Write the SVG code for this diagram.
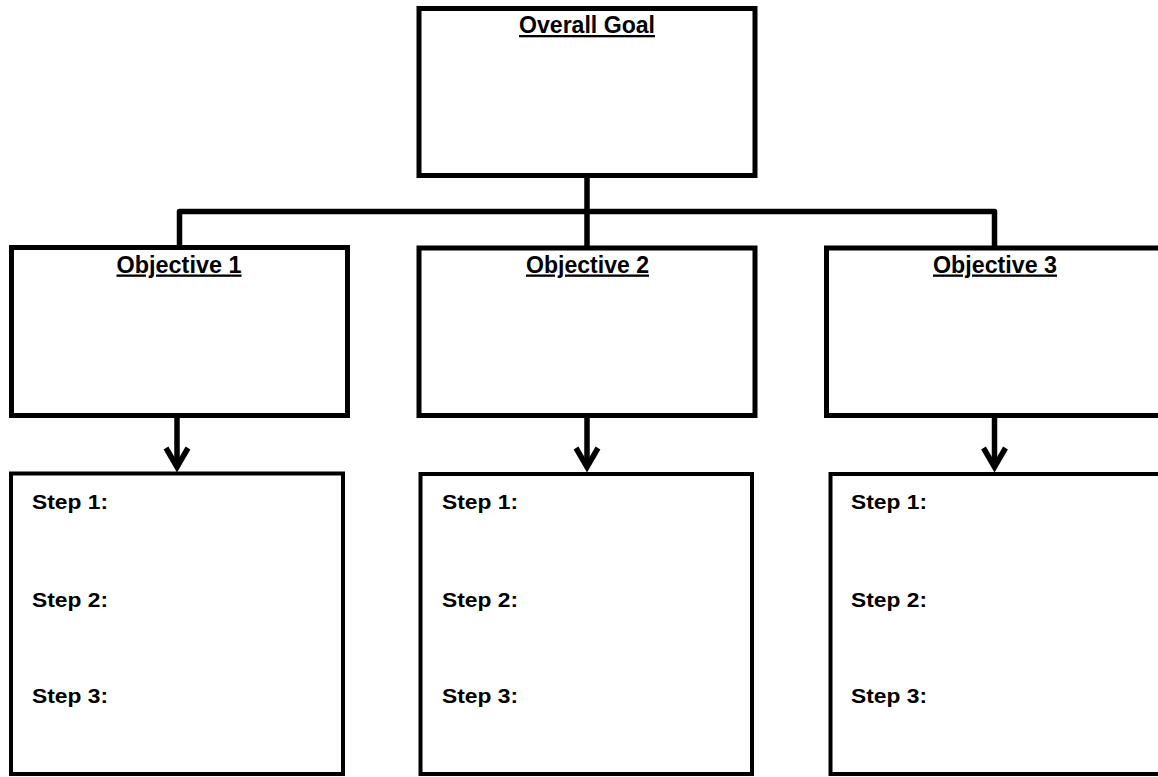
<svg xmlns="http://www.w3.org/2000/svg" width="1158" height="777" viewBox="0 0 1158 777">
  <style>
    .box { fill: #ffffff; stroke: #000000; stroke-width: 5; }
    .step-box { fill: #ffffff; stroke: #000000; stroke-width: 4; }
    .title { font-family: "Liberation Sans", Arial, sans-serif; font-weight: bold; font-size: 23px; text-anchor: middle; text-decoration: underline; fill: #000000; }
    .step { font-family: "Liberation Sans", Arial, sans-serif; font-weight: bold; font-size: 21px; fill: #000000; }
    .conn { fill: none; stroke: #000000; stroke-width: 5.5; stroke-linejoin: round; }
    .arrow { fill: none; stroke: #000000; stroke-width: 5.5; marker-end: url(#chev); }
  </style>
  <defs>
    <marker id="chev" markerUnits="userSpaceOnUse" markerWidth="30" markerHeight="30" viewBox="-24 -15 28 30" refX="0" refY="0" orient="auto" overflow="visible">
      <path d="M -19,-11 L 0,0 L -19,11" fill="none" stroke="#000000" stroke-width="5.5" stroke-linejoin="miter" stroke-linecap="butt"/>
    </marker>
  </defs>
  <rect width="1158" height="777" fill="#ffffff"/>

  <g id="connectors">
    <path class="conn" d="M587,175 V248"/>
    <path class="conn" d="M179.5,248 V211.5 H994.5 V248"/>
    <path class="arrow" d="M177,416 V467"/>
    <path class="arrow" d="M587,416 V467"/>
    <path class="arrow" d="M994.5,416 V467"/>
  </g>

  <g id="goal">
    <rect class="box" x="419" y="8.5" width="336" height="167"/>
    <text class="title" x="587" y="33" textLength="136" lengthAdjust="spacingAndGlyphs">Overall Goal</text>
  </g>

  <g id="objective1">
    <rect class="box" x="11.5" y="247.5" width="336" height="168"/>
    <text class="title" x="179" y="272.5" textLength="125" lengthAdjust="spacingAndGlyphs">Objective 1</text>
  </g>
  <g id="objective2">
    <rect class="box" x="419" y="248" width="336" height="167.5"/>
    <text class="title" x="587.5" y="272.5" textLength="123" lengthAdjust="spacingAndGlyphs">Objective 2</text>
  </g>
  <g id="objective3">
    <rect class="box" x="826.5" y="248" width="350" height="167.5"/>
    <text class="title" x="995" y="272.5" textLength="124" lengthAdjust="spacingAndGlyphs">Objective 3</text>
  </g>

  <g id="steps1">
    <rect class="step-box" x="11" y="473.5" width="332" height="300.5"/>
    <text class="step" x="32" y="509" textLength="76" lengthAdjust="spacingAndGlyphs">Step 1:</text>
    <text class="step" x="32" y="607" textLength="76" lengthAdjust="spacingAndGlyphs">Step 2:</text>
    <text class="step" x="32" y="703" textLength="76" lengthAdjust="spacingAndGlyphs">Step 3:</text>
  </g>
  <g id="steps2">
    <rect class="step-box" x="420.5" y="474" width="331.5" height="300"/>
    <text class="step" x="442" y="509" textLength="76" lengthAdjust="spacingAndGlyphs">Step 1:</text>
    <text class="step" x="442" y="607" textLength="76" lengthAdjust="spacingAndGlyphs">Step 2:</text>
    <text class="step" x="442" y="703" textLength="76" lengthAdjust="spacingAndGlyphs">Step 3:</text>
  </g>
  <g id="steps3">
    <rect class="step-box" x="830.5" y="474" width="350" height="300"/>
    <text class="step" x="851" y="509" textLength="76" lengthAdjust="spacingAndGlyphs">Step 1:</text>
    <text class="step" x="851" y="607" textLength="76" lengthAdjust="spacingAndGlyphs">Step 2:</text>
    <text class="step" x="851" y="703" textLength="76" lengthAdjust="spacingAndGlyphs">Step 3:</text>
  </g>
</svg>
